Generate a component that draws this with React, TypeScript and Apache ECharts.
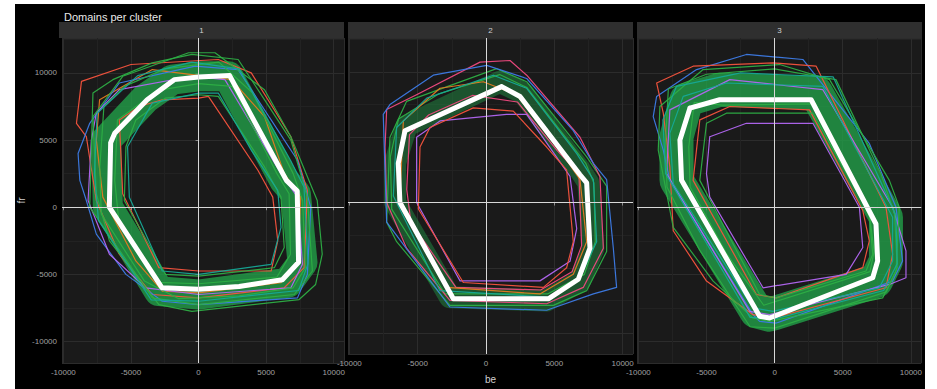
import React, { useEffect, useRef } from 'react';
import * as echarts from 'echarts';

// ---------- data ----------
const PANELS = ['1', '2', '3'];
const X_TICKS = [-10000, -5000, 0, 5000, 10000];
const Y_TICKS = [-10000, -5000, 0, 5000, 10000];
const X_NAME = 'be';
const Y_NAME = 'fr';
const TITLE = 'Domains per cluster';

// Panel 1
const P1_WHITE = [[-6500, 4800], [-6600, 0], [-2700, -6000], [0, -6100], [3000, -5900], [6200, -5400], [7400, -4100], [7300, 1200], [6500, 2000], [2300, 9800], [0, 9700], [-1800, 9500], [-3800, 8000], [-6200, 5500]];
const P1_BAND = [[-6830, 5000], [-6710, 0], [-2930, -6250], [0, -6500], [6590, -5625], [7690, -4125], [7200, 1000], [6340, 2000], [2200, 9750], [0, 9750], [-1950, 9500], [-3900, 8125], [-6590, 5250]];
const P1_GREEN = [
  [[-7810, 8500], [-8050, 0], [-3420, -6750], [0, -7250], [7080, -6500], [8420, -4750], [8050, 750], [6830, 5000], [2930, 11000], [-490, 11375], [-3420, 10750], [-6340, 9500]],
  [[1220, 11500], [4880, 8750], [6830, 5250], [8780, 500], [9150, -3500], [8660, -5750], [7440, -6875], [-490, -7750], [-2930, -7250], [-6590, -2500], [-7560, 1000], [-7810, 6750], [-5610, 9750], [-730, 11500]],
  [[-5370, 4500], [-5490, 500], [-2440, -5000], [0, -5125], [5610, -4500], [6340, -3000], [6100, 750], [4880, 3000], [1460, 8250], [0, 8375], [-2440, 8125], [-4640, 6500]],
  [[-7000, 7500], [-7300, 3000], [-7200, -500], [-4000, -5500], [-1500, -6800], [3000, -6600], [7000, -6000], [7900, -4500], [7700, 500], [7000, 2500], [4000, 8500], [1500, 10800], [-2500, 10300], [-5500, 9000]],
  [[-6000, 6500], [-6200, 2000], [-5900, -1000], [-3000, -5600], [0, -5700], [5800, -5200], [6800, -3500], [6700, 1000], [5800, 2500], [2500, 9000], [0, 9200], [-3000, 8700]],
];
const P1_RED = [
  [[-8660, 9375], [-9030, 6250], [-8300, 5250], [-7560, 500], [-5860, -3500], [-3420, -6500], [0, -6750], [6340, -6000], [7810, -4500], [8050, 1250], [6830, 5250], [3900, 10000], [1460, 11000], [-5000, 10625]],
  [[-5860, 6500], [-5610, 1000], [-2930, -4500], [0, -4750], [5370, -4750], [5860, -2500], [5490, 750], [4390, 2750], [730, 8250], [0, 8125], [-2680, 8000], [-4390, 7500]],
];
const P1_ORANGE = [
  [[-7320, 8000], [-7560, 5000], [-7080, 750], [-4640, -4000], [-2680, -6250], [0, -6375], [6100, -5625], [7320, -4000], [7560, 750], [6340, 2500], [4880, 6750], [2440, 9500], [-3420, 10250]],
];
const P1_BLUE = [
  [[-8910, 4000], [-8780, 2000], [-8300, 500], [-7560, -2000], [-5370, -5000], [-2680, -7000], [0, -7250], [7320, -6750], [8050, -5000], [8300, 0], [7320, 3500], [2930, 10250], [-240, 10500], [-5860, 9250], [-8050, 6250]],
];
const P1_PURPLE = [
  [[-7930, 5000], [-8170, 500], [-6590, -3500], [-3900, -6000], [0, -6500], [6830, -6000], [7690, -4250], [7320, 750], [6100, 2500], [1950, 9500], [-490, 9750], [-5860, 8750], [-7560, 7000]],
];
const P1_TEAL = [
  [[-5250, 4500], [-5120, 750], [-2680, -4750], [0, -5000], [5370, -4250], [6100, -1500], [5860, 1250], [3900, 4250], [1460, 8500], [0, 8500], [-3420, 7750]],
  [[-7500, 7000], [-7700, 2500], [-7400, -1000], [-3500, -6900], [0, -7000], [7400, -6200], [8100, -4200], [7800, 1500], [6800, 3500], [3000, 10300], [-500, 10800], [-4500, 9800]],
];

// Panel 2
const P2_WHITE = [[1150, 8875], [-5930, 5500], [-6420, 3000], [-6300, 0], [-2390, -7375], [4560, -7375], [6760, -5875], [7610, -3500], [7370, 1500], [6880, 2125], [2490, 8125]];
const P2_BAND = [[1020, 9250], [-5810, 5875], [-6660, 3000], [-6660, 0], [-2640, -7250], [4440, -7500], [6880, -6000], [7860, -3500], [7490, 1500], [6880, 2500], [2730, 8375]];
const P2_GREEN = [
  [[-7030, 5000], [-7270, -1500], [-6540, -3000], [-2640, -7875], [4930, -7875], [7370, -6750], [8830, -3750], [8830, 1250], [7370, 3500], [2980, 9250], [780, 10250], [-5810, 7750]],
  [[-6400, 6400], [-7000, 3500], [-6900, -500], [-3000, -7000], [4500, -7000], [7200, -5500], [8000, -3000], [7900, 1500], [7300, 3000], [3000, 8800], [1000, 9800], [-3500, 8300]],
];
const P2_PINK = [
  [[-7270, 7125], [-7390, 4250], [-7270, 0], [-5810, -3500], [-2640, -7500], [4440, -7750], [7120, -6500], [8590, -3500], [8340, 2000], [6880, 5000], [2980, 9750], [1760, 10875], [-440, 10750], [-5080, 8250]],
  [[-5600, 5200], [-5800, 1000], [-5500, -1500], [-2200, -6500], [4000, -6700], [6300, -5300], [7000, -3300], [6800, 2200], [5200, 4000], [2300, 7700], [-1000, 8200], [-4200, 6700]],
];
const P2_BLUE = [
  [[-7520, 6750], [-7270, -1500], [-2640, -8000], [4440, -8250], [7860, -7000], [9560, -6500], [9320, -3500], [8830, 1750], [7860, 3000], [6390, 5500], [2980, 9500], [50, 10500], [-3860, 9750], [-7030, 7500]],
];
const P2_PURPLE = [
  [[-5080, 5000], [-5080, 0], [-1900, -6000], [3950, -6000], [6150, -4500], [6640, -2000], [6150, 2000], [2980, 6750], [1510, 6750], [-3370, 6250]],
];
const P2_RED = [
  [[-4830, 4250], [-4950, -500], [-1660, -6125], [4200, -6500], [5900, -5000], [6390, -3000], [5900, 2500], [4440, 4250], [2000, 7000], [-930, 7250], [-4100, 5750]],
];
const P2_ORANGE = [
  [[-6050, 6250], [-6300, 250], [-2880, -6500], [3950, -7000], [6390, -5500], [7370, -3000], [6880, 1750], [5900, 3250], [2240, 8250], [-200, 9250], [-3370, 8750]],
];
const P2_TEAL = [
  [[-6540, 5750], [-6780, 500], [-3370, -6750], [4690, -7250], [6880, -5750], [8100, -3000], [7860, 1750], [6640, 3750], [2980, 8750], [540, 9750], [-4340, 8000]],
];

// Panel 3
const P3_WHITE = [[-6220, 7375], [-6950, 5000], [-6830, 2000], [-1100, -8125], [-370, -8250], [7200, -5250], [7560, -4000], [7440, -1250], [2680, 8000], [-4030, 8000]];
const P3_BAND = [[-6470, 8000], [-7200, 5250], [-7200, 2000], [-1340, -7750], [-370, -8000], [7440, -5500], [8170, -4000], [8170, -750], [3050, 8500], [-4030, 8750]];
const P3_GREEN = [
  [[-8420, 7500], [-8540, 4250], [-7440, -1500], [-4510, -5500], [-1590, -8250], [-370, -8500], [7930, -6750], [8910, -4750], [9150, 0], [8420, 2000], [4030, 9500], [370, 10625], [-5250, 10250]],
  [[-5000, 6250], [-5490, 2000], [-1100, -6500], [120, -6750], [6710, -4750], [7200, -3500], [6950, -500], [2810, 7000], [-3540, 7000]],
  [[-7800, 8800], [-8000, 5000], [-7900, 1500], [-5500, -3200], [-1800, -8900], [0, -9000], [8200, -6300], [9000, -4500], [8800, -500], [7800, 2500], [4500, 9500], [0, 10300], [-5000, 9900]],
  [[-5900, 7800], [-6300, 4500], [-6200, 1500], [-3500, -3500], [-800, -7300], [7000, -4800], [7300, -3300], [7000, -800], [3000, 7700], [-3800, 7600]],
];
const P3_BLUE = [
  [[-5730, 10250], [-8660, 8250], [-8910, 6750], [-8170, 4250], [-7690, 2000], [-1590, -8000], [-1100, -8500], [120, -8625], [8660, -5500], [9390, -4000], [8910, 0], [6950, 4750], [2070, 11000], [-2070, 11375]],
];
const P3_RED = [
  [[-8660, 9250], [-8170, 7000], [-7690, 3000], [-7440, -1750], [-5000, -5500], [-1590, -8000], [-120, -8250], [8170, -6000], [8660, -3500], [8170, 0], [3050, 10500], [-120, 10750], [-5980, 10500]],
  [[-5490, 6500], [-5980, 2000], [-1340, -6500], [120, -6750], [6470, -4500], [6950, -2500], [6470, -250], [2560, 7250], [-3290, 7500]],
];
const P3_PURPLE = [
  [[-4760, 5250], [-5000, 2500], [-4760, 750], [-850, -6000], [5250, -5000], [6470, -3000], [6220, 0], [2810, 6250], [-2070, 6250]],
  [[-7690, 7250], [-7930, 2500], [-1830, -7750], [-370, -8000], [8420, -5750], [9640, -5250], [9640, -3250], [8660, 0], [3540, 8750], [-3290, 9500]],
];
const P3_TEAL = [
  [[-6710, 8250], [-7690, 5500], [-7440, 1750], [-1590, -7500], [-120, -7750], [7690, -6000], [8660, -4000], [8660, -750], [3540, 9000], [-3540, 9250]],
  [[-7200, 9000], [-8200, 6500], [-8000, 2500], [-1800, -8200], [100, -8300], [8000, -6200], [9000, -4200], [8900, -600], [4300, 9700], [-2500, 10000]],
];

// ---------- styles ----------
const C = {
  green: '#2DAE45',
  red: '#F5533D',
  orange: '#E47A22',
  blue: '#3D7BE6',
  purple: '#B266F2',
  teal: '#16A896',
  pink: '#F0497F',
  white: '#FFFFFF',
  band: '#22A34A',
};

const PANEL_DATA = [
  {
    white: P1_WHITE, band: P1_BAND, bandW: 30, bandO: 0.78,
    groups: [
      { polys: P1_RED, color: C.red }, { polys: P1_ORANGE, color: C.orange },
      { polys: P1_BLUE, color: C.blue }, { polys: P1_PURPLE, color: C.purple },
      { polys: P1_GREEN, color: C.green }, { polys: P1_TEAL, color: C.teal },
    ],
  },
  {
    white: P2_WHITE, band: P2_BAND, bandW: 22, bandO: 0.42,
    groups: [
      { polys: P2_GREEN, color: C.green }, { polys: P2_PINK, color: C.pink }, { polys: P2_BLUE, color: C.blue },
      { polys: P2_PURPLE, color: C.purple }, { polys: P2_RED, color: C.red }, { polys: P2_ORANGE, color: C.orange },
      { polys: P2_TEAL, color: C.teal },
    ],
  },
  {
    white: P3_WHITE, band: P3_BAND, bandW: 34, bandO: 0.78,
    groups: [
      { polys: P3_BLUE, color: C.blue }, { polys: P3_RED, color: C.red },
      { polys: P3_PURPLE, color: C.purple }, { polys: P3_GREEN, color: C.green }, { polys: P3_TEAL, color: C.teal },
    ],
  },
];

const X_MIN = -10100, X_MAX = 10760, Y_MIN = -11600, Y_MAX = 12600;
const GRID_LEFTS = [44, 333, 622];
const GRID_TOP = 34, GRID_W = 285, GRID_H = 325;
const STRIP_TOP = 18, STRIP_H = 16;
const FONT = 'Liberation Sans, Arial, Helvetica, sans-serif';

const close = (p: number[][]) => [...p, p[0]];

function lineSeries(pts: number[][], gi: number, color: string, width: number, opacity: number, z: number) {
  return {
    type: 'line',
    xAxisIndex: gi,
    yAxisIndex: gi,
    data: close(pts),
    showSymbol: false,
    symbol: 'none',
    silent: true,
    z,
    emphasis: { disabled: true },
    lineStyle: { color, width, opacity, join: 'round', cap: 'round' },
  };
}

function buildOption() {
  const series: any[] = [];
  PANEL_DATA.forEach((pd, gi) => {
    series.push(lineSeries(pd.band, gi, C.band, pd.bandW, pd.bandO, 1));
    pd.groups.forEach((g) => g.polys.forEach((p) => series.push(lineSeries(p, gi, g.color, 1.2, 0.95, 2))));
    series.push({
      type: 'line', xAxisIndex: gi, yAxisIndex: gi, data: [], z: 3, silent: true,
      markLine: {
        silent: true, symbol: ['none', 'none'], label: { show: false },
        lineStyle: { color: '#D8D8D8', width: 1, type: 'solid', opacity: 1 },
        emphasis: { disabled: true },
        data: [{ xAxis: 0 }, { yAxis: 0 }],
      },
    });
    series.push(lineSeries(pd.white, gi, C.white, 5, 1, 4));
  });

  const fmt = (ticks: number[]) => (v: number) => (ticks.includes(v) ? String(v) : '');

  const xAxis = PANELS.map((_, gi) => ({
    gridIndex: gi, type: 'value', min: X_MIN, max: X_MAX, splitNumber: 4,
    name: gi === 1 ? X_NAME : '', nameLocation: 'middle', nameGap: 20,
    nameTextStyle: { color: '#D0D0D0', fontSize: 10, fontFamily: FONT },
    axisLine: { show: false },
    axisTick: { show: true, length: 3, lineStyle: { color: '#8A8A8A' } },
    axisLabel: { color: '#A0A0A0', fontSize: 8, margin: 5, fontFamily: FONT, showMinLabel: false, showMaxLabel: false, formatter: fmt(X_TICKS) },
    splitLine: { show: true, lineStyle: { color: '#2C2C2C', width: 1 } },
    minorTick: { show: false, splitNumber: 2 },
    minorSplitLine: { show: true, lineStyle: { color: '#222222', width: 1 } },
  }));
  const yAxis = PANELS.map((_, gi) => ({
    gridIndex: gi, type: 'value', min: Y_MIN, max: Y_MAX, splitNumber: 5,
    name: gi === 0 ? Y_NAME : '', nameLocation: 'middle', nameGap: 36, nameRotate: 90,
    nameTextStyle: { color: '#D0D0D0', fontSize: 10, fontFamily: FONT },
    axisLine: { show: false },
    axisTick: { show: gi === 0, length: 3, lineStyle: { color: '#8A8A8A' } },
    axisLabel: { show: gi === 0, color: '#A0A0A0', fontSize: 8, margin: 5, fontFamily: FONT, showMinLabel: false, showMaxLabel: false, formatter: fmt(Y_TICKS) },
    splitLine: { show: true, lineStyle: { color: '#2C2C2C', width: 1 } },
    minorTick: { show: false, splitNumber: 2 },
    minorSplitLine: { show: true, lineStyle: { color: '#222222', width: 1 } },
  }));

  const graphic: any[] = [];
  PANELS.forEach((label, gi) => {
    graphic.push({ type: 'rect', shape: { x: GRID_LEFTS[gi], y: STRIP_TOP, width: GRID_W, height: STRIP_H }, style: { fill: '#2F2F2F' }, silent: true });
    graphic.push({
      type: 'text', x: GRID_LEFTS[gi] + GRID_W / 2, y: STRIP_TOP + STRIP_H / 2, silent: true,
      style: { text: label, fill: '#D0D0D0', fontSize: 8, fontFamily: FONT, align: 'center', verticalAlign: 'middle' },
    });
  });

  return {
    animation: false,
    backgroundColor: '#000000',
    textStyle: { fontFamily: FONT },
    title: { text: TITLE, left: 44, top: 2, textStyle: { color: '#E8E8E8', fontSize: 11, fontWeight: 'normal', fontFamily: FONT } },
    grid: GRID_LEFTS.map((l) => ({ left: l, top: GRID_TOP, width: GRID_W, height: GRID_H, show: true, backgroundColor: '#1A1A1A', borderWidth: 0, containLabel: false })),
    xAxis, yAxis, series, graphic,
  };
}

export default function App() {
  const ref = useRef<HTMLDivElement>(null);
  useEffect(() => {
    if (!ref.current) return;
    const chart = echarts.init(ref.current, null, { renderer: 'svg' });
    chart.setOption(buildOption() as any);
    return () => chart.dispose();
  }, []);
  return <div ref={ref} style={{ position: 'fixed', left: 15, top: 4, width: 910, height: 385 }} />;
}
